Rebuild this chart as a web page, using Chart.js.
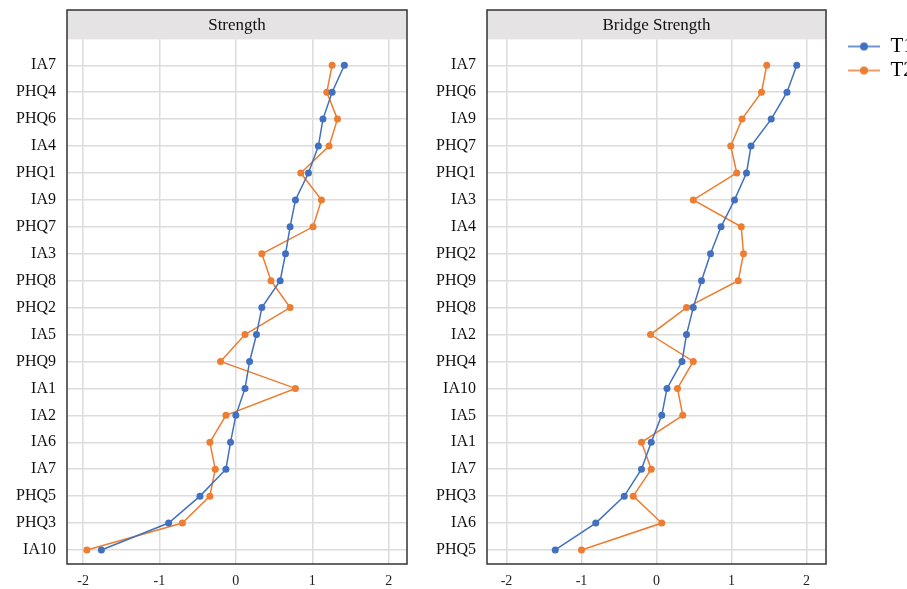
<!DOCTYPE html>
<html lang="en">
<head>
    <meta charset="UTF-8">
    <title>Strength / Bridge Strength</title>
    <script src="https://cdn.jsdelivr.net/npm/chart.js"></script>
    <style>
        html, body { margin: 0; padding: 0; background: #fff; overflow: hidden; }
        body { width: 907px; height: 589px; position: relative; }
        .box { position: absolute; }
    </style>
</head>
<body>
    <div class="box" style="left:0;top:0;width:420px;height:589px"><canvas id="strengthChart"></canvas></div>
    <div class="box" style="left:420px;top:0;width:420px;height:589px"><canvas id="bridgeChart"></canvas></div>
    <div class="box" style="left:840px;top:33px;width:200px;height:100px"><canvas id="legendChart"></canvas></div>

    <script>
        // Strength panel (top to bottom)
        const strengthNodes = ['IA7', 'PHQ4', 'PHQ6', 'IA4', 'PHQ1', 'IA9', 'PHQ7', 'IA3', 'PHQ8', 'PHQ2',
                               'IA5', 'PHQ9', 'IA1', 'IA2', 'IA6', 'IA7', 'PHQ5', 'PHQ3', 'IA10'];
        const strengthT1 = [1.42, 1.26, 1.14, 1.08, 0.95, 0.78, 0.71, 0.65, 0.58, 0.34,
                            0.27, 0.18, 0.12, 0.00, -0.07, -0.13, -0.47, -0.88, -1.76];
        const strengthT2 = [1.26, 1.19, 1.33, 1.22, 0.85, 1.12, 1.01, 0.34, 0.46, 0.71,
                            0.12, -0.20, 0.78, -0.13, -0.34, -0.27, -0.34, -0.70, -1.95];

        // Bridge strength panel (top to bottom)
        const bridgeNodes = ['IA7', 'PHQ6', 'IA9', 'PHQ7', 'PHQ1', 'IA3', 'IA4', 'PHQ2', 'PHQ9', 'PHQ8',
                             'IA2', 'PHQ4', 'IA10', 'IA5', 'IA1', 'IA7', 'PHQ3', 'IA6', 'PHQ5'];
        const bridgeT1 = [1.87, 1.74, 1.53, 1.26, 1.20, 1.04, 0.86, 0.72, 0.60, 0.49,
                          0.40, 0.34, 0.14, 0.07, -0.07, -0.20, -0.43, -0.81, -1.35];
        const bridgeT2 = [1.47, 1.40, 1.14, 0.99, 1.07, 0.49, 1.13, 1.16, 1.09, 0.40,
                          -0.08, 0.49, 0.28, 0.35, -0.20, -0.07, -0.31, 0.07, -1.00];

        const seriesNames = ['T1', 'T2'];
        const xTicks = [-2, -1, 0, 1, 2];

        const BLUE = '#4270C0';
        const ORANGE = '#ED7D31';
        const SERIF = '"Liberation Serif", "Times New Roman", serif';

        // grey strip on top + dark frame around each panel
        const panelFrame = {
            id: 'panelFrame',
            beforeDraw(chart) {
                const { ctx, chartArea: a } = chart;
                ctx.save();
                ctx.fillStyle = '#e5e3e3';
                ctx.fillRect(a.left, 10, a.right - a.left, a.top - 10);
                ctx.restore();
            },
            afterDraw(chart) {
                const { ctx, chartArea: a } = chart;
                ctx.save();
                ctx.strokeStyle = '#333';
                ctx.lineWidth = 1.5;
                ctx.strokeRect(a.left, 10, a.right - a.left, a.bottom - 10);
                ctx.restore();
            }
        };

        function makeDataset(label, values, color) {
            return {
                label: label,
                data: values.map((v, i) => ({ x: v, y: i })),
                borderColor: color,
                backgroundColor: color,
                borderWidth: 1.5,
                pointRadius: 3.5,
                pointBorderWidth: 0,
                pointHoverRadius: 3.5,
                tension: 0
            };
        }

        function panel(canvasId, title, nodes, t1, t2, xMin, xMax, padRight) {
            return new Chart(document.getElementById(canvasId), {
                type: 'line',
                data: {
                    datasets: [
                        makeDataset(seriesNames[0], t1, BLUE),
                        makeDataset(seriesNames[1], t2, ORANGE)
                    ]
                },
                options: {
                    responsive: true,
                    maintainAspectRatio: false,
                    animation: false,
                    layout: { padding: { top: 10, right: padRight, bottom: 0, left: 0 } },
                    plugins: {
                        legend: { display: false },
                        tooltip: { enabled: false },
                        title: {
                            display: true,
                            text: title,
                            fullSize: false,
                            color: '#111',
                            font: { family: SERIF, size: 17, weight: 'normal' },
                            padding: { top: 5, bottom: 4 }
                        }
                    },
                    scales: {
                        x: {
                            type: 'linear',
                            min: xMin,
                            max: xMax,
                            afterBuildTicks: s => { s.ticks = xTicks.map(v => ({ value: v })); },
                            afterFit: s => { s.height = 25; },
                            grid: { color: '#dcdcdc', lineWidth: 1.5, drawTicks: false },
                            border: { display: false },
                            ticks: {
                                padding: 9,
                                color: '#222',
                                font: { family: SERIF, size: 14 },
                                callback: v => String(v)
                            }
                        },
                        y: {
                            type: 'linear',
                            reverse: true,
                            min: -0.96,
                            max: 18.52,
                            afterBuildTicks: s => { s.ticks = nodes.map((_, i) => ({ value: i })); },
                            afterFit: s => { s.width = 67; },
                            grid: { color: '#dcdcdc', lineWidth: 1.5, drawTicks: false },
                            border: { display: false },
                            ticks: {
                                padding: 11,
                                color: '#111',
                                font: { family: SERIF, size: 16 },
                                callback: v => nodes[v]
                            }
                        }
                    }
                },
                plugins: [panelFrame]
            });
        }

        panel('strengthChart', 'Strength', strengthNodes, strengthT1, strengthT2, -2.21, 2.24, 13);
        panel('bridgeChart', 'Bridge Strength', bridgeNodes, bridgeT1, bridgeT2, -2.26, 2.26, 14);

        // legend icon: short line with a dot in the middle
        function legendIcon(color) {
            const c = document.createElement('canvas');
            c.width = 32;
            c.height = 10;
            const g = c.getContext('2d');
            g.strokeStyle = color;
            g.lineWidth = 1.5;
            g.beginPath();
            g.moveTo(0, 5);
            g.lineTo(32, 5);
            g.stroke();
            g.fillStyle = color;
            g.beginPath();
            g.arc(16, 5, 4, 0, Math.PI * 2);
            g.fill();
            return c;
        }
        const icons = [legendIcon(BLUE), legendIcon(ORANGE)];

        new Chart(document.getElementById('legendChart'), {
            type: 'line',
            data: {
                datasets: [
                    { label: seriesNames[0], data: [], borderColor: BLUE, backgroundColor: BLUE },
                    { label: seriesNames[1], data: [], borderColor: ORANGE, backgroundColor: ORANGE }
                ]
            },
            options: {
                responsive: true,
                maintainAspectRatio: false,
                animation: false,
                layout: { padding: { left: 5 } },
                scales: { x: { display: false }, y: { display: false } },
                plugins: {
                    tooltip: { enabled: false },
                    legend: {
                        position: 'left',
                        align: 'start',
                        labels: {
                            usePointStyle: true,
                            pointStyleWidth: 32,
                            padding: 3,
                            color: '#111',
                            font: { family: SERIF, size: 21 },
                            generateLabels: chart => chart.data.datasets.map((d, i) => ({
                                text: d.label,
                                pointStyle: icons[i],
                                fillStyle: d.borderColor,
                                strokeStyle: d.borderColor,
                                lineWidth: 0,
                                hidden: false,
                                datasetIndex: i
                            }))
                        }
                    }
                }
            }
        });
    </script>
</body>
</html>
